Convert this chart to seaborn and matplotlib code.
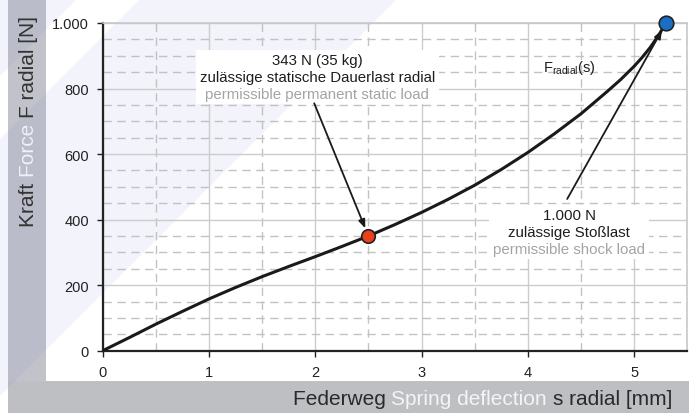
import matplotlib
matplotlib.use("Agg")
import matplotlib.pyplot as plt
from matplotlib.patches import Rectangle, Polygon
from matplotlib.ticker import MultipleLocator
from matplotlib.transforms import Bbox
import seaborn as sns

# spring curve
deflection = [0, 0.25, 0.5, 0.75, 1.0, 1.25, 1.5, 1.75, 2.0, 2.25, 2.5, 2.75,
              3.0, 3.25, 3.5, 3.75, 4.0, 4.25, 4.5, 4.75, 4.875, 5.0, 5.075,
              5.15, 5.225, 5.3]
force = [0, 40, 81, 120, 158, 193, 226, 257, 287, 318, 350, 385,
         422, 462, 505, 553, 605, 662, 723, 792, 828, 868, 895,
         925, 960, 1000]

# marked points
static_s = [2.5]
static_f = [350]
shock_s = [5.3]
shock_f = [1000]

x_ticks = [0, 1, 2, 3, 4, 5]
y_ticks = [0, 200, 400, 600, 800, 1000]
y_tick_labels = ["0", "200", "400", "600", "800", "1.000"]

static_lines = ["343 N (35 kg)", "zulässige statische Dauerlast radial",
                "permissible permanent static load"]
shock_lines = ["1.000 N", "zulässige Stoßlast", "permissible shock load"]

ylabel_parts = ["Kraft ", "Force ", "F radial [N]"]
ylabel_colors = ["#333333", "#f0f1f8", "#333333"]
xlabel_parts = ["Federweg ", "Spring deflection ", "s radial [mm]"]
xlabel_colors = ["#2a2a2a", "#f4f4f4", "#2a2a2a"]

W, H = 699, 414

sns.set_style("white")
plt.rcParams["font.family"] = ["Liberation Sans", "DejaVu Sans"]
plt.rcParams["mathtext.fontset"] = "custom"
plt.rcParams["mathtext.rm"] = "Liberation Sans"


def fxy(x, y):
    # picture pixels (from top-left) -> figure fraction
    return (x / W, 1 - y / H)


fig = plt.figure(figsize=(W / 100, H / 100), dpi=100, facecolor="white")

# gray bands and the light diagonal watermark
fig.patches.append(Rectangle(fxy(8, 414), 38 / W, 1, transform=fig.transFigure,
                             facecolor="#c2c3ca", lw=0, zorder=-3))
fig.patches.append(Rectangle(fxy(8, 414), (689 - 8) / W, 32 / H, transform=fig.transFigure,
                             facecolor="#bebfc3", lw=0, zorder=-3))
for pts in ([(0, 0), (77, 0), (0, 77)],
            [(140, 0), (397, 0), (0, 397), (0, 140)]):
    fig.patches.append(Polygon([fxy(*p) for p in pts], closed=True, transform=fig.transFigure,
                               facecolor=(0.36, 0.44, 0.8), alpha=0.08, lw=0, zorder=-1))

ax = fig.add_axes([102.7 / W, 1 - 351.7 / H, (687.3 - 102.7) / W, (351.7 - 24) / H])
ax.patch.set_visible(False)

sns.lineplot(x=deflection, y=force, color="#1a1a1a", lw=2.2, ax=ax, zorder=4)
sns.scatterplot(x=static_s, y=static_f, s=95, color="#e8411c", edgecolor="#222222",
                linewidth=1.2, zorder=6, clip_on=False, ax=ax)
sns.scatterplot(x=shock_s, y=shock_f, s=110, color="#1a6fc4", edgecolor="#222222",
                linewidth=1.2, zorder=6, clip_on=False, ax=ax)

ax.set_xlim(0, 5.5)
ax.set_ylim(0, 1000)
ax.set_xticks(x_ticks)
ax.set_xticklabels([str(v) for v in x_ticks])
ax.set_yticks(y_ticks)
ax.set_yticklabels(y_tick_labels)
ax.xaxis.set_minor_locator(MultipleLocator(0.5))
ax.yaxis.set_minor_locator(MultipleLocator(50))
ax.set_axisbelow(True)
ax.grid(which="major", color="#cccccc", lw=1.0, ls="-")
ax.grid(which="minor", color="#c2c2c2", lw=1.0, ls=(0, (6, 4)))
ax.tick_params(which="major", direction="out", length=4, width=1, color="#222222",
               labelsize=10.5, labelcolor="#222222", pad=6, bottom=True, left=True)
ax.tick_params(which="minor", length=0)
for side in ["left", "bottom"]:
    ax.spines[side].set_color("#222222")
    ax.spines[side].set_linewidth(1.6)
for side in ["top", "right"]:
    ax.spines[side].set_color("#c8c8c8")
    ax.spines[side].set_linewidth(1.2)
ax.set_xlabel("")
ax.set_ylabel("")

# annotations
arrow = dict(arrowstyle="-|>,head_length=0.5,head_width=0.2", color="#1a1a1a",
             lw=1.3, shrinkA=0, shrinkB=6)
ax.annotate("", xy=(static_s[0], static_f[0]), xytext=(1.99, 755), arrowprops=arrow, zorder=5)
ax.annotate("", xy=(shock_s[0], shock_f[0]), xytext=(4.37, 463), arrowprops=arrow, zorder=5)

line_colors = ["#1e1e1e", "#1e1e1e", "#a4a4a4"]
blocks = []
for lines, cx, ys in ((static_lines, 2.02, [888, 836, 784]),
                      (shock_lines, 4.39, [414, 362, 310])):
    texts = [ax.text(cx, yy, txt, ha="center", va="center", fontsize=10.8, color=c, zorder=4)
             for txt, yy, c in zip(lines, ys, line_colors)]
    blocks.append(texts)

ax.text(4.14, 866, r"F$_{\mathrm{radial}}$(s)", ha="left", va="center",
        fontsize=10.5, color="#1e1e1e", zorder=4)

fig.canvas.draw()
renderer = fig.canvas.get_renderer()

# white boxes behind the annotation blocks, sized from the text
inv = ax.transData.inverted()
for texts in blocks:
    bb = Bbox.union([t.get_window_extent(renderer) for t in texts])
    (x0, y0), (x1, y1) = inv.transform([(bb.x0 - 4, bb.y0 - 3), (bb.x1 + 4, bb.y1 + 3)])
    ax.add_patch(Rectangle((x0, y0), x1 - x0, y1 - y0, facecolor="white",
                           edgecolor="none", zorder=3))


# multi-coloured axis titles
def text_width(s, size):
    t = fig.text(0, 0, s, fontsize=size)
    w = t.get_window_extent(renderer).width
    t.remove()
    return w


def offsets(parts, size):
    out = []
    prefix = ""
    bar = text_width("|", size)
    for p in parts:
        out.append(text_width(prefix + "|", size) - bar if prefix else 0)
        prefix += p
    return out, text_width(prefix, size)


offs, total = offsets(xlabel_parts, 15)
left = 672 - total
for p, o, c in zip(xlabel_parts, offs, xlabel_colors):
    fig.text(*fxy(left + o, 405), p, fontsize=15, color=c, ha="left", va="baseline")

offs, total = offsets(ylabel_parts, 15)
for p, o, c in zip(ylabel_parts, offs, ylabel_colors):
    fig.text(*fxy(33.5, 227 - o), p, fontsize=15, color=c, rotation=90,
             rotation_mode="anchor", ha="left", va="baseline")

fig.savefig("out.png", dpi=100, facecolor="white")
